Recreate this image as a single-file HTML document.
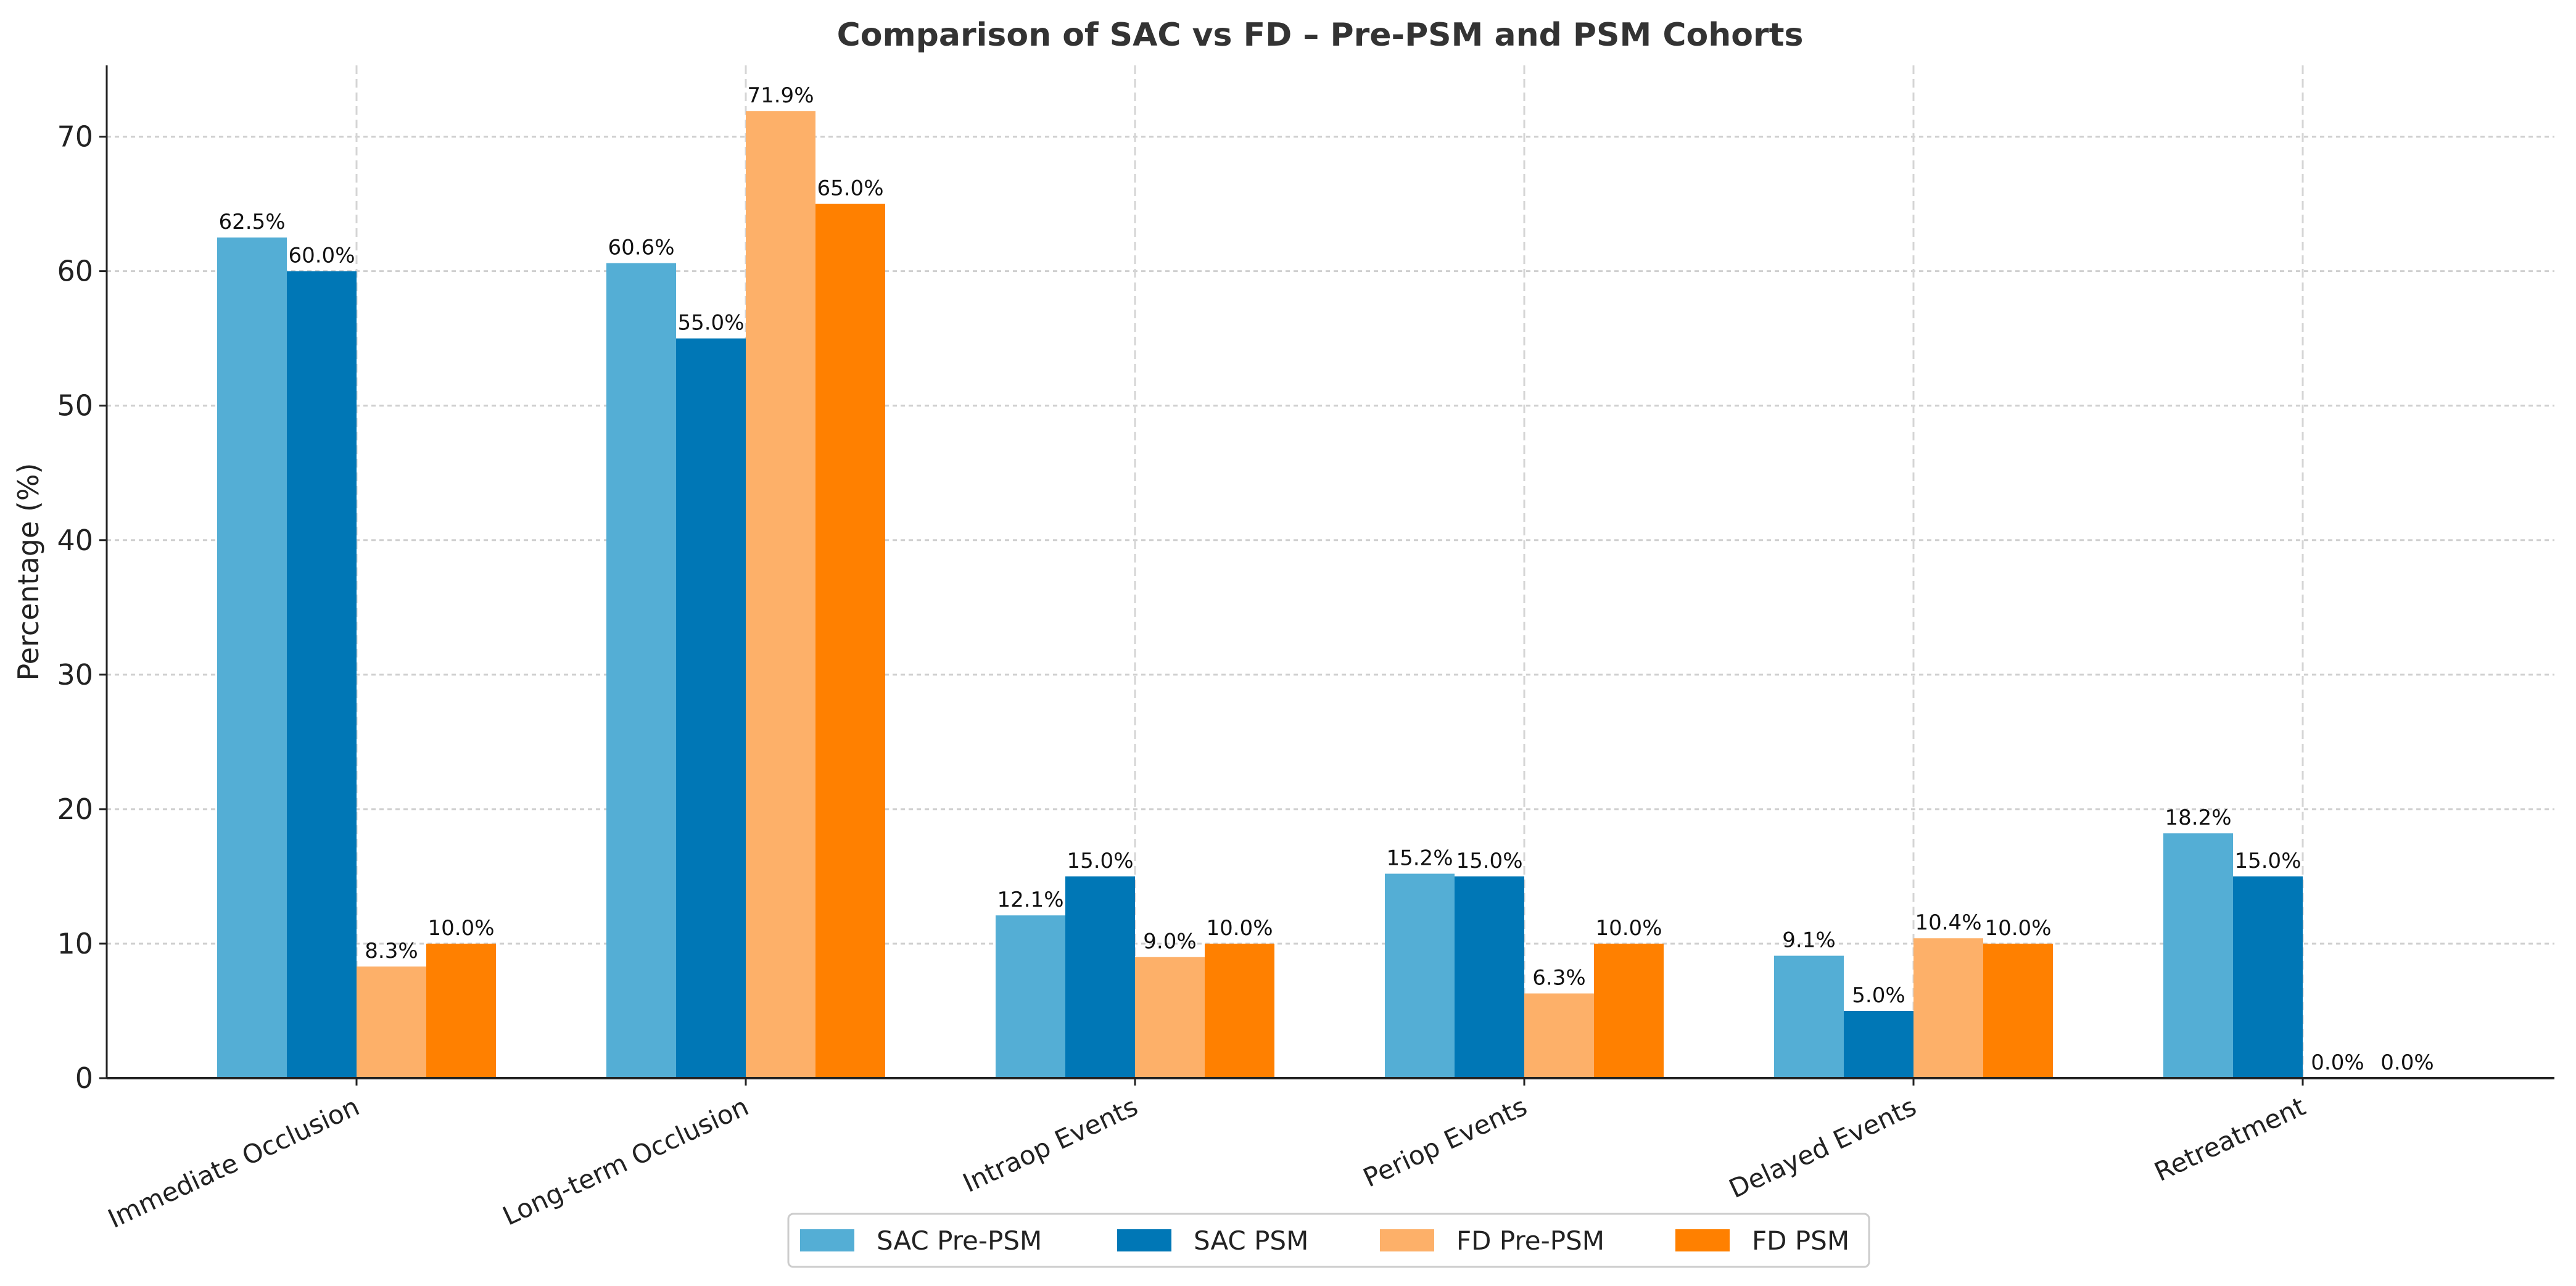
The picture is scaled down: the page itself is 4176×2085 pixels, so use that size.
<!DOCTYPE html>
<html><head><meta charset="utf-8"><style>
html,body{margin:0;padding:0;background:#fff;}
svg{display:block;font-family:"DejaVu Sans","Liberation Sans",sans-serif;}
</style></head><body>
<svg id="chart" width="4176" height="2085" viewBox="0 0 4176 2085" xmlns="http://www.w3.org/2000/svg">
<text x="2140" y="74" font-size="52" font-weight="bold" fill="#333" text-anchor="middle">Comparison of SAC vs FD – Pre-PSM and PSM Cohorts</text>
<g id="grid"></g><g id="bars"></g><g id="labels"></g><g id="axes"></g><g id="legend"></g>
</svg>
<script>
const categories = ["Immediate Occlusion","Long-term Occlusion","Intraop Events","Periop Events","Delayed Events","Retreatment"];
const seriesNames = ["SAC Pre-PSM","SAC PSM","FD Pre-PSM","FD PSM"];
const sacPre = [62.5,60.6,12.1,15.2,9.1,18.2];
const sacPsm = [60.0,55.0,15.0,15.0,5.0,15.0];
const fdPre = [8.3,71.9,9.0,6.3,10.4,0.0];
const fdPsm = [10.0,65.0,10.0,10.0,10.0,0.0];
const yTicks = [0,10,20,30,40,50,60,70];
const colors = ["#54AED5","#0077B6","#FDB069","#FF8000"];
const series = [sacPre,sacPsm,fdPre,fdPsm];

const NS="http://www.w3.org/2000/svg";
const L=173,R=4141,T=106,B=1748,yMax=75.3;
const gap=631,first=578,bw=113;
const y=v=>B-(v/yMax)*(B-T);
const xc=i=>first+i*gap;
function mk(tag,attrs,parent){const e=document.createElementNS(NS,tag);for(const k in attrs)e.setAttribute(k,attrs[k]);parent.appendChild(e);return e;}
const grid=document.getElementById('grid'),bars=document.getElementById('bars'),labels=document.getElementById('labels'),axes=document.getElementById('axes'),legend=document.getElementById('legend');

yTicks.forEach(t=>{
  if(t>0){const g=mk('line',{x1:L,x2:R,y1:y(t),y2:y(t),stroke:'#cfcfcf','stroke-width':3,'stroke-dasharray':'7,6'},grid);
  
  }
  const tk=mk('line',{x1:L-12,x2:L,y1:y(t),y2:y(t),stroke:'#222','stroke-width':3},axes);
  
  
  const tl=mk('text',{x:L-22,y:y(t)+16,'font-size':46,'text-anchor':'end',fill:'#222'},axes);
  tl.textContent=t;
  
  
});
categories.forEach((c,i)=>{
  const g=mk('line',{x1:xc(i),x2:xc(i),y1:T,y2:B,stroke:'#d5d5d5','stroke-width':3,'stroke-dasharray':'14,8'},grid);
  
  
  const tk=mk('line',{x1:xc(i),x2:xc(i),y1:B,y2:B+12,stroke:'#222','stroke-width':3},axes);
  
  
  const tl=mk('text',{x:xc(i),y:B+58,'font-size':42,'text-anchor':'end',fill:'#222',transform:`rotate(-25 ${xc(i)} ${B+40})`},axes);
  tl.textContent=c;
  
  
});
series.forEach((s,si)=>{
  s.forEach((v,i)=>{
    const x0=xc(i)+(si-2)*bw;
    const r=mk('rect',{x:x0,y:y(v),width:bw,height:B-y(v),fill:colors[si]},bars);
    
    
    const t=mk('text',{x:x0+bw/2,y:y(v)-14,'font-size':34,'text-anchor':'middle',fill:'#111'},labels);
    t.textContent=v.toFixed(1)+'%';
    
    
  });
});
const la=mk('line',{x1:L,x2:L,y1:T,y2:B,stroke:'#222','stroke-width':3},axes);


const ba=mk('line',{x1:L,x2:R,y1:B,y2:B,stroke:'#222','stroke-width':4},axes);


const yt=mk('text',{x:62,y:(T+B)/2,'font-size':46,'text-anchor':'middle',fill:'#222',transform:`rotate(-90 62 ${(T+B)/2})`},axes);
yt.textContent='Percentage (%)';



const box=mk('rect',{x:1278,y:1968,width:1752,height:86,rx:8,fill:'#fff',stroke:'#cccccc','stroke-width':3},legend);


const lx=[1297,1811,2237,2716];
seriesNames.forEach((n,si)=>{
  const p=mk('rect',{x:lx[si],y:1993,width:88,height:36,fill:colors[si]},legend);
  
  
  const t=mk('text',{x:lx[si]+124,y:2026,'font-size':42,fill:'#222'},legend);
  t.textContent=n;
  
  
});
</script>
</body></html>
